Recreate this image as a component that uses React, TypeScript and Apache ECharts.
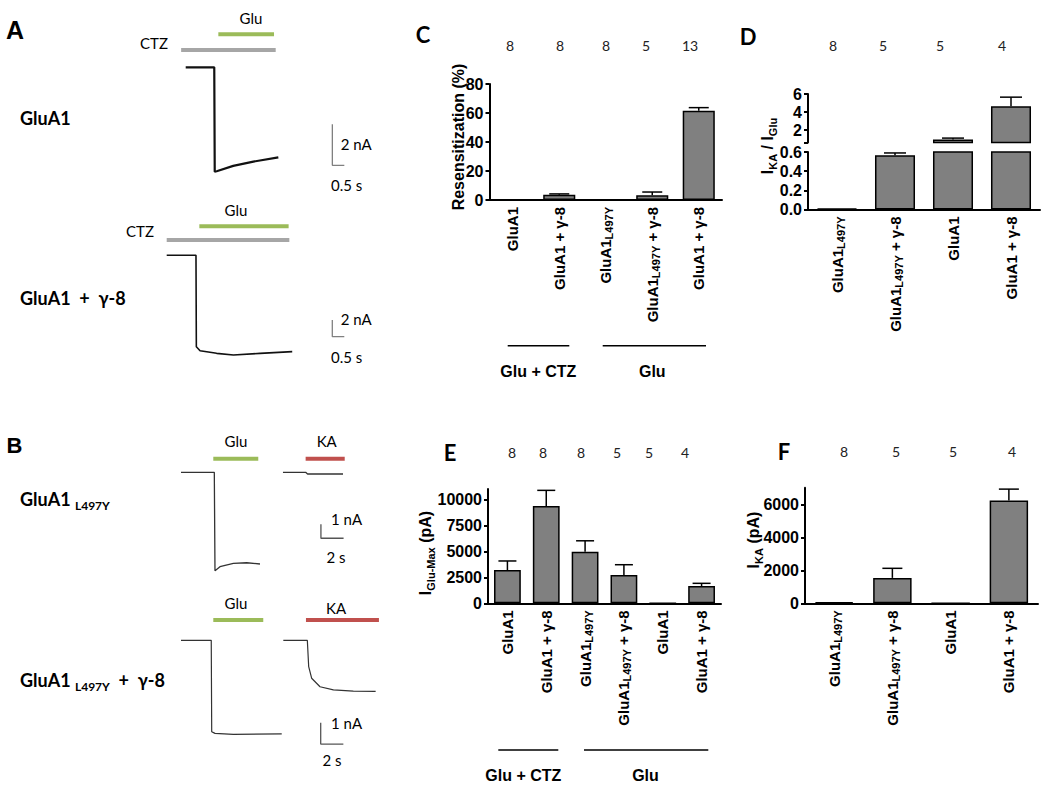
import React, { useEffect, useRef } from 'react';
import * as echarts from 'echarts';

// ---------------- DATA ----------------
// Panel C – resensitization (%)
const cCategories = ['GluA1', 'GluA1 + γ-8', 'GluA1L497Y', 'GluA1L497Y + γ-8', 'GluA1 + γ-8'];
const cMeans = [0, 3.6, 0, 3.2, 61.6];
const cSems = [0, 0.6, 0, 2.3, 2.1];
const cN = [8, 8, 8, 5, 13];
const cTicks = [0, 20, 40, 60, 80];

// Panel D – IKA / IGlu (broken axis)
const dCategories = ['GluA1L497Y', 'GluA1L497Y + γ-8', 'GluA1', 'GluA1 + γ-8'];
const dMeans = [0.01, 0.565, 0.95, 4.65];
const dSems = [0, 0.025, 0.15, 1.0];
const dN = [8, 5, 5, 4];
const dBreak = 0.6;
const dTopMax = 6;
const dTopLabels = [2, 4, 6];
const dTopTicks = [0.6, 2, 4, 6];
const dBottomTicks = [0, 0.2, 0.4, 0.6];

// Panel E – IGlu-Max (pA)
const eCategories = ['GluA1', 'GluA1 + γ-8', 'GluA1L497Y', 'GluA1L497Y + γ-8', 'GluA1', 'GluA1 + γ-8'];
const eMeans = [3200, 9350, 4950, 2720, 0, 1660];
const eSems = [870, 1510, 1060, 990, 0, 260];
const eN = [8, 8, 8, 5, 5, 4];
const eTicks = [0, 2500, 5000, 7500, 10000];
const eMax = 11000;

// Panel F – IKA (pA)
const fCategories = ['GluA1L497Y', 'GluA1L497Y + γ-8', 'GluA1', 'GluA1 + γ-8'];
const fMeans = [60, 1540, 0, 6230];
const fSems = [0, 580, 0, 690];
const fN = [8, 5, 5, 4];
const fTicks = [0, 2000, 4000, 6000];
const fMax = 7000;

// Traces: [time (s), current (nA)]
const aTopTrace = [[0, 0], [1.19, 0], [1.21, -5.09], [1.29, -5.07], [1.98, -4.81], [2.82, -4.6], [3.86, -4.39]];
const aTopCTZ = [-0.19, 3.75];
const aTopGlu = [1.36, 3.68];
const aBotTrace = [[0, 0], [1.22, 0], [1.235, -10.95], [1.39, -11.43], [2.08, -11.74], [2.78, -11.94], [3.89, -11.74], [5.23, -11.54]];
const aBotCTZ = [0, 5.11];
const aBotGlu = [1.36, 5.08];
const bTopGluTrace = [[0, 0], [2.94, 0], [3.0, -7.03], [3.44, -6.74], [4.62, -6.5], [5.8, -6.46], [6.97, -6.55]];
const bTopKATrace = [[9.0, 0], [11.0, 0], [11.17, -0.12], [14.3, -0.12]];
const bTopGlu = [2.85, 6.82];
const bTopKA = [11.0, 14.45];
const bBotGluTrace = [[0, 0], [2.67, 0], [2.71, -4.29], [3.0, -4.37], [4.62, -4.42], [8.89, -4.39]];
const bBotKATrace = [[9.03, 0], [11.15, 0], [11.27, -1.24], [11.53, -1.78], [12.27, -2.18], [13.45, -2.33], [15.21, -2.39], [17.18, -2.4]];
const bBotGlu = [2.85, 7.26];
const bBotKA = [11.03, 17.47];
// scale bars: [current nA, time s]
const aScale = [2, 0.5];
const bScale = [1, 2];

// ---------------- LAYOUT / STYLE ----------------
const BOLD = 'Liberation Sans';
const CAL = 'Lato';
const GREEN = '#9bbb59';
const GRAY = '#a6a6a6';
const RED = '#c0504d';
const BARFILL = '#808080';

const catRich = {
  s: { fontFamily: BOLD, fontWeight: 'bold', fontSize: 11, color: '#000', lineHeight: 9, verticalAlign: 'bottom' },
};
function fmtCat(v: string) {
  const k = v.indexOf('L497Y');
  if (k < 0) return v;
  return `${v.slice(0, k)}{s|L497Y}${v.slice(k + 5)}`;
}

function catAxis(grid: number, data: string[], show = true) {
  return {
    type: 'category', gridIndex: grid, data, show,
    axisLine: { lineStyle: { color: '#000', width: 2 } },
    axisTick: { alignWithLabel: true, length: 4, lineStyle: { color: '#000', width: 1.5 } },
    axisLabel: {
      interval: 0, rotate: 90, margin: 7, fontSize: 15, fontFamily: BOLD, fontWeight: 'bold', color: '#000',
      lineHeight: 18, formatter: fmtCat, rich: catRich,
    },
  };
}
function valAxis(grid: number, min: number, max: number, labels: number[], ticks: number[], fmt?: (v: number) => string) {
  return {
    type: 'value', gridIndex: grid, min, max,
    axisLine: { show: true, lineStyle: { color: '#000', width: 2 } },
    axisTick: { show: true, length: 4, customValues: ticks, lineStyle: { color: '#000', width: 2 } },
    axisLabel: {
      customValues: labels, color: '#000', fontFamily: BOLD, fontWeight: 'bold', fontSize: 16, margin: 6,
      formatter: fmt || ((v: number) => String(v)),
    },
    splitLine: { show: false },
  };
}
function barSeries(idx: number, data: any[], width: string) {
  return {
    type: 'bar', xAxisIndex: idx, yAxisIndex: idx, data, barWidth: width,
    itemStyle: { color: BARFILL, borderColor: '#000', borderWidth: 1.5 }, z: 2,
  };
}
function errSeries(idx: number, means: number[], sems: number[], cap: number, keep: (m: number) => boolean = () => true) {
  return {
    type: 'custom', xAxisIndex: idx, yAxisIndex: idx, z: 5, clip: false,
    data: means.map((m, k) => [k, m, sems[k]]),
    renderItem: (params: any, api: any) => {
      const i = api.value(0);
      const m = api.value(1);
      const s = api.value(2);
      if (!s || !keep(m)) return null;
      const p0 = api.coord([i, m]);
      const p1 = api.coord([i, m + s]);
      const st = { stroke: '#000', lineWidth: 1.5 };
      return {
        type: 'group',
        children: [
          { type: 'line', shape: { x1: p0[0], y1: p0[1], x2: p1[0], y2: p1[1] }, style: st },
          { type: 'line', shape: { x1: p1[0] - cap, y1: p1[1], x2: p1[0] + cap, y2: p1[1] }, style: st },
        ],
      };
    },
  };
}

// trace panel placement: x0,y0 = page pixel of (t=0, I=0); sx px/s; sy px/nA
const traceLayouts = [
  { x0: 185.7, y0: 67.3, sx: 24, sy: 20.5, t: [-1, 7], i: [-5.5, 2] },
  { x0: 166.7, y0: 255.3, sx: 24, sy: 8.35, t: [-1, 8], i: [-12.5, 4] },
  { x0: 181, y0: 472.3, sx: 11.33, sy: 14, t: [-1, 16], i: [-7.5, 1.5] },
  { x0: 181, y0: 640.3, sx: 11.33, sy: 21.3, t: [-1, 18], i: [-5.5, 1.5] },
];
function traceGrid(L: any) {
  return {
    left: L.x0 + L.t[0] * L.sx, top: L.y0 - L.i[1] * L.sy,
    width: (L.t[1] - L.t[0]) * L.sx, height: (L.i[1] - L.i[0]) * L.sy,
  };
}
function lineS(idx: number, data: any[], color: string, width: number) {
  return {
    type: 'line', xAxisIndex: idx, yAxisIndex: idx, data, showSymbol: false, symbol: 'none',
    lineStyle: { color, width }, z: 3, silent: true,
  };
}
function stimS(idx: number, span: number[], level: number, color: string) {
  return lineS(idx, [[span[0], level], [span[1], level]], color, 4);
}
function scaleS(idx: number, t: number, i: number, sc: number[], color: string) {
  return lineS(idx, [[t, i + sc[0]], [t, i], [t + sc[1], i]], color, 1.3);
}

function txt(x: number, y: number, text: string, opts: any = {}) {
  const align = opts.align || 'center';
  const style: any = {
    text, fill: opts.fill || '#000',
    fontFamily: opts.fontFamily || CAL, fontSize: opts.fontSize || 15, fontWeight: opts.fontWeight || 'normal',
    align, verticalAlign: 'middle',
  };
  if (opts.rich) style.rich = opts.rich;
  return { type: 'text', x, y, rotation: opts.rotation || 0, silent: true, style };
}
function hline(x1: number, x2: number, y: number) {
  return { type: 'line', silent: true, shape: { x1, y1: y, x2, y2: y }, style: { stroke: '#000', lineWidth: 1.5 } };
}

const titleRich = {
  m: { fontFamily: BOLD, fontWeight: 'bold', fontSize: 16, color: '#000', lineHeight: 22 },
  s: { fontFamily: BOLD, fontWeight: 'bold', fontSize: 11, color: '#000', lineHeight: 10, verticalAlign: 'bottom' },
};
const traceRich = {
  b: { fontFamily: CAL, fontWeight: 'bold', fontSize: 18, color: '#000', lineHeight: 24 },
  s: { fontFamily: CAL, fontWeight: 'bold', fontSize: 12, color: '#000', lineHeight: 10, verticalAlign: 'bottom' },
};

const cNx = [510, 560, 606, 646, 690];
const dNx = [833, 883, 940, 1002];
const eNx = [512, 543, 581, 617, 649, 685];
const fNx = [844, 896, 953, 1012];

export default function App() {
  const ref = useRef<HTMLDivElement>(null);
  useEffect(() => {
    if (!ref.current) return;
    const chart = echarts.init(ref.current, null, { renderer: 'svg' });
    const R = Math.PI / 2;

    const grids: any[] = [
      { left: 489.5, top: 84, width: 232.5, height: 116 }, // C
      { left: 808, top: 94, width: 232, height: 48.6 }, // D top
      { left: 808, top: 152, width: 232, height: 57.5 }, // D bottom
      { left: 488, top: 488.9, width: 233, height: 114.4 }, // E
      { left: 805, top: 487.8, width: 233, height: 115.5 }, // F
      ...traceLayouts.map(traceGrid),
    ];
    const xAxis: any[] = [
      catAxis(0, cCategories),
      catAxis(1, dCategories, false),
      catAxis(2, dCategories),
      catAxis(3, eCategories),
      catAxis(4, fCategories),
      ...traceLayouts.map((L, k) => ({ type: 'value', gridIndex: 5 + k, min: L.t[0], max: L.t[1], show: false })),
    ];
    const yAxis: any[] = [
      valAxis(0, 0, 80, cTicks, cTicks),
      valAxis(1, dBreak, dTopMax, dTopLabels, dTopTicks),
      valAxis(2, 0, dBreak, dBottomTicks, dBottomTicks, (v: number) => v.toFixed(1)),
      valAxis(3, 0, eMax, eTicks, eTicks),
      valAxis(4, 0, fMax, fTicks, fTicks),
      ...traceLayouts.map((L, k) => ({ type: 'value', gridIndex: 5 + k, min: L.i[0], max: L.i[1], show: false })),
    ];

    const series: any[] = [
      barSeries(0, cMeans, '69%'),
      errSeries(0, cMeans, cSems, 10),
      barSeries(1, dMeans.map((m) => (m > dBreak ? m : '-')), '69%'),
      errSeries(1, dMeans, dSems, 11, (m) => m > dBreak),
      barSeries(2, dMeans, '69%'),
      errSeries(2, dMeans, dSems, 11, (m) => m <= dBreak),
      barSeries(3, eMeans, '69%'),
      errSeries(3, eMeans, eSems, 9),
      barSeries(4, fMeans, '66%'),
      errSeries(4, fMeans, fSems, 10),
      // A top
      stimS(5, aTopCTZ, 0.84, GRAY),
      stimS(5, aTopGlu, 1.61, GREEN),
      lineS(5, aTopTrace, '#111', 2.2),
      scaleS(5, 6.11, -4.78, aScale, '#808080'),
      // A bottom
      stimS(6, aBotCTZ, 1.83, GRAY),
      stimS(6, aBotGlu, 3.47, GREEN),
      lineS(6, aBotTrace, '#111', 1.6),
      scaleS(6, 6.9, -9.75, aScale, '#808080'),
      // B top
      stimS(7, bTopGlu, 0.97, GREEN),
      stimS(7, bTopKA, 0.97, RED),
      lineS(7, bTopGluTrace, '#333', 1.3),
      lineS(7, bTopKATrace, '#333', 1.3),
      scaleS(7, 12.35, -4.71, bScale, '#555'),
      // B bottom
      stimS(8, bBotGlu, 0.95, GREEN),
      stimS(8, bBotKA, 0.95, RED),
      lineS(8, bBotGluTrace, '#333', 1.2),
      lineS(8, bBotKATrace, '#333', 1.2),
      scaleS(8, 12.33, -4.87, bScale, '#555'),
    ];

    const graphic: any[] = [
      // panel letters
      txt(15, 30, 'A', { fontFamily: BOLD, fontWeight: 'bold', fontSize: 25 }),
      txt(14.5, 445, 'B', { fontFamily: BOLD, fontWeight: 'bold', fontSize: 22 }),
      txt(423, 34, 'C', { fontWeight: 'bold', fontSize: 22 }),
      txt(748, 36, 'D', { fontWeight: 'bold', fontSize: 22 }),
      txt(450, 452, 'E', { fontWeight: 'bold', fontSize: 22 }),
      txt(784, 451, 'F', { fontWeight: 'bold', fontSize: 22 }),
      // n labels
      ...cN.map((n, k) => txt(cNx[k], 45, String(n), { fontSize: 14, fill: '#222' })),
      ...dN.map((n, k) => txt(dNx[k], 45, String(n), { fontSize: 14, fill: '#222' })),
      ...eN.map((n, k) => txt(eNx[k], 452, String(n), { fontSize: 14, fill: '#222' })),
      ...fN.map((n, k) => txt(fNx[k], 451, String(n), { fontSize: 14, fill: '#222' })),
      // y titles
      txt(458, 137, '{m|Resensitization (%)}', { rotation: R, rich: titleRich }),
      txt(767, 146, '{m|I}{s|KA}{m| / I}{s|Glu}', { rotation: R, rich: titleRich }),
      txt(425, 553, '{m|I}{s|Glu-Max}{m| (pA)}', { rotation: R, rich: titleRich }),
      txt(753, 540, '{m|I}{s|KA}{m| (pA)}', { rotation: R, rich: titleRich }),
      // group lines C
      hline(507.7, 569.3, 345.7),
      hline(602.7, 706, 345.7),
      txt(538.3, 371, 'Glu + CTZ', { fontFamily: BOLD, fontWeight: 'bold', fontSize: 16 }),
      txt(652.3, 371, 'Glu', { fontFamily: BOLD, fontWeight: 'bold', fontSize: 16 }),
      // group lines E
      hline(498.3, 558.3, 750),
      hline(584, 708.3, 750),
      txt(523.3, 775.7, 'Glu + CTZ', { fontFamily: BOLD, fontWeight: 'bold', fontSize: 16 }),
      txt(645.5, 775.7, 'Glu', { fontFamily: BOLD, fontWeight: 'bold', fontSize: 16 }),
      // trace row labels
      txt(20, 117.7, '{b|GluA1}', { align: 'left', rich: traceRich }),
      txt(20, 298.3, '{b|GluA1  +  γ-8}', { align: 'left', rich: traceRich }),
      txt(20, 499.3, '{b|GluA1 }{s|L497Y}', { align: 'left', rich: traceRich }),
      txt(20, 680, '{b|GluA1 }{s|L497Y}{b|  +  γ-8}', { align: 'left', rich: traceRich }),
      // stim labels
      txt(154, 42.7, 'CTZ'),
      txt(251, 18, 'Glu'),
      txt(236, 210, 'Glu'),
      txt(140, 231, 'CTZ'),
      txt(236, 440.7, 'Glu'),
      txt(326.7, 440.7, 'KA'),
      txt(236, 602.7, 'Glu'),
      txt(336, 607.7, 'KA'),
      // scale bar labels
      txt(340.7, 144, `${aScale[0]} nA`, { align: 'left' }),
      txt(331, 185, `${aScale[1]} s`, { align: 'left' }),
      txt(340.7, 319, `${aScale[0]} nA`, { align: 'left' }),
      txt(331, 357, `${aScale[1]} s`, { align: 'left' }),
      txt(331, 519, `${bScale[0]} nA`, { align: 'left' }),
      txt(336, 556.7, `${bScale[1]} s`),
      txt(331, 723.3, `${bScale[0]} nA`, { align: 'left' }),
      txt(332, 760, `${bScale[1]} s`),
    ];

    chart.setOption({
      animation: false,
      backgroundColor: '#fff',
      textStyle: { fontFamily: BOLD },
      grid: grids,
      xAxis,
      yAxis,
      series,
      graphic,
    });
    return () => chart.dispose();
  }, []);
  return (
    <div
      ref={ref}
      style={{ position: 'fixed', left: 0, top: 0, width: 1050, height: 791, background: '#fff' }}
    />
  );
}
